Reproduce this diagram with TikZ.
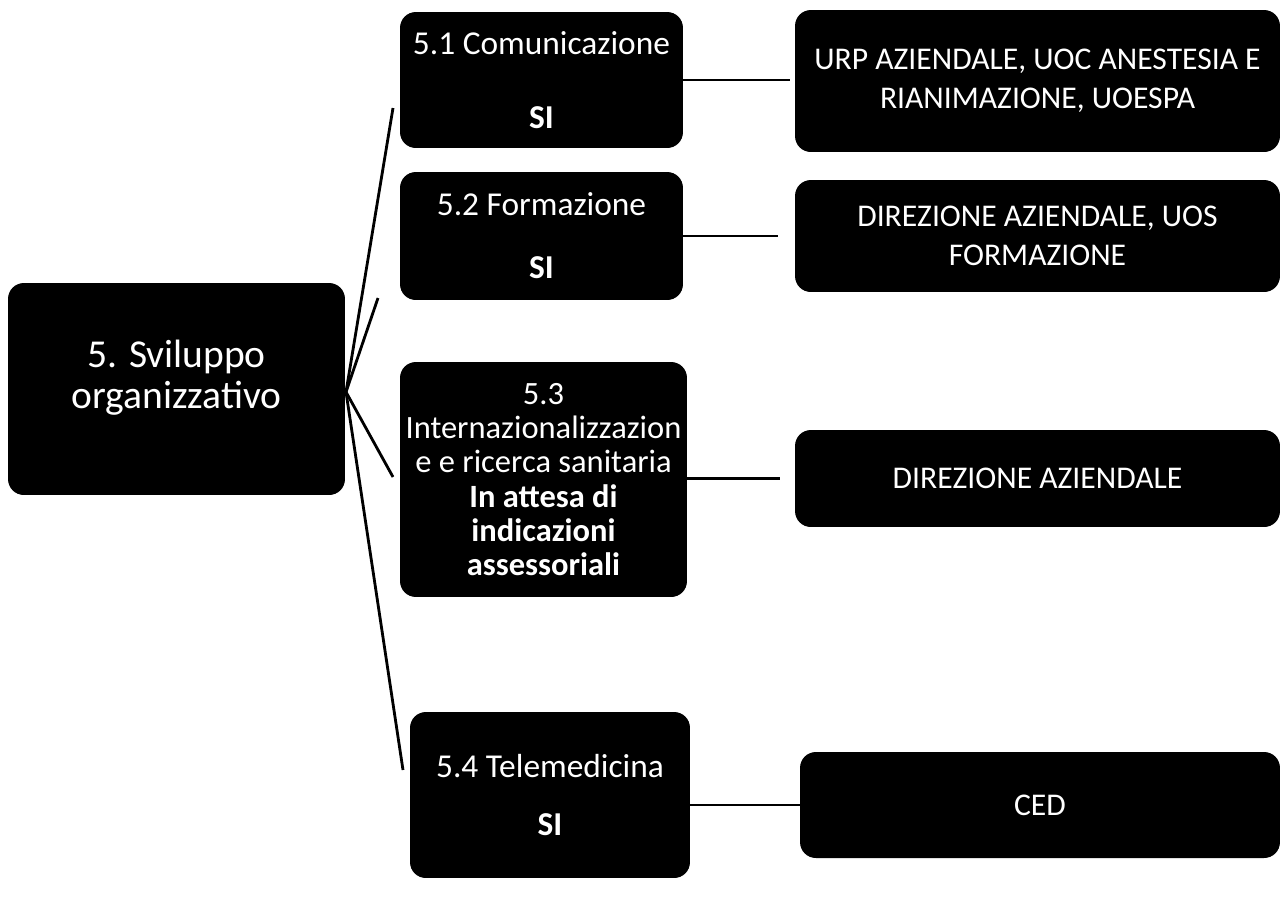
\documentclass[tikz,border=0pt]{standalone}
\usepackage{fontspec}
\setmainfont{Carlito}

\tikzstyle{block}=[fill=black,text=white,rounded corners=9pt,align=center,inner sep=2pt,font=\fontsize{18}{22}\selectfont]
\tikzstyle{area}=[block,font=\fontsize{19}{22}\selectfont]
\tikzstyle{link}=[line width=1.6pt]

\begin{document}
\begin{tikzpicture}[x=0.02cm,y=-0.02cm]
	\useasboundingbox (0,0) rectangle (1282,900);
	
	\node[block, minimum width=6.74cm, minimum height=4.24cm, font=\fontsize{22.5}{23}\selectfont] (root) at (176.5,389) {5. Sviluppo\\organizzativo\\[-6pt]};
	
	\node[area, minimum width=5.66cm, minimum height=2.72cm] (c1) at (541.5,80) {5.1 Comunicazione\\[20pt]\textbf{SI}};
	\node[area, minimum width=5.66cm, minimum height=2.56cm] (c2) at (541.5,236) {5.2 Formazione\\[14pt]\textbf{SI}};
	\node[area, minimum width=5.74cm, minimum height=4.7cm, font=\fontsize{18.5}{19.5}\selectfont] (c3) at (543.5,479.5) {5.3\\Internazionalizzazion\\e e ricerca sanitaria\\\textbf{In attesa di}\\\textbf{indicazioni}\\\textbf{assessoriali}};
	\node[area, minimum width=5.6cm, minimum height=3.32cm] (c4) at (550,795) {5.4 Telemedicina\\[11pt]\textbf{SI}};
	
	\node[block, minimum width=9.7cm, minimum height=2.84cm] (r1) at (1037.5,81) {URP AZIENDALE, UOC ANESTESIA E\\RIANIMAZIONE, UOESPA};
	\node[block, minimum width=9.7cm, minimum height=2.24cm] (r2) at (1037.5,236) {DIREZIONE AZIENDALE, UOS\\FORMAZIONE};
	\node[block, minimum width=9.7cm, minimum height=1.94cm] (r3) at (1037.5,478.5) {DIREZIONE AZIENDALE};
	\node[block, minimum width=9.6cm, minimum height=2.12cm] (r4) at (1040,805) {CED};
	
	% fan from the root
	\coordinate (hub) at (346,392);
	\coordinate (e1) at (393,108);
	\coordinate (e2) at (378,298);
	\coordinate (e3) at (393,477);
	\coordinate (e4) at (403,770);
	\draw[link] (hub)--(e1);
	\draw[link] (hub)--(e2);
	\draw[link] (hub)--(e3);
	\draw[link] (hub)--(e4);
	
	% second level
	\draw[link, shorten >=0.1cm] (c1.east)--(r1.west |- c1.east);
	\draw[link, shorten >=0.34cm] (c2.east)--(r2.west |- c2.east);
	\draw[link, shorten >=0.3cm] (c3.east |- r3.west)--(r3.west);
	\draw[link] (c4.east |- r4.west)--(r4.west);
\end{tikzpicture}
\end{document}
